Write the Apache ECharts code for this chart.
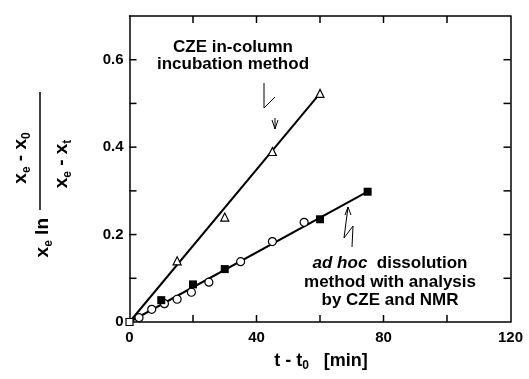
<!DOCTYPE html>
<html>
<head>
<meta charset="utf-8">
<script src="https://cdn.jsdelivr.net/npm/echarts@6/dist/echarts.min.js"></script>
<style>html,body{margin:0;padding:0;background:#fff;}#c{width:529px;height:379px;}</style>
</head>
<body>
<div id="c"></div>
<script>
// ---- data ----
var czeX = [0, 15, 30, 45, 60];
var czeY = [0, 0.14, 0.24, 0.39, 0.523];
var adhocSquareX = [0, 10, 20, 30, 60, 75];
var adhocSquareY = [0, 0.05, 0.086, 0.121, 0.235, 0.298];
var adhocCircleX = [3, 7, 11, 15, 19.5, 25, 35, 45, 55];
var adhocCircleY = [0.01, 0.029, 0.042, 0.052, 0.068, 0.091, 0.138, 0.184, 0.228];
var czeFitX = [0, 60];
var czeFitY = [0, 0.523];
var adhocFitX = [0, 75];
var adhocFitY = [0, 0.298];
var xTickLabels = [0, 40, 80, 120];
var yTickLabels = [0, 0.2, 0.4, 0.6];
var xTicks = [20, 40, 60, 80, 100];
var yTicks = [0.1, 0.2, 0.3, 0.4, 0.5, 0.6];

function zip(a, b) { return a.map(function (v, i) { return [v, b[i]]; }); }

var FONT = "'Liberation Sans', Arial, Helvetica, sans-serif";
var chart = echarts.init(document.getElementById('c'), null, { renderer: 'canvas' });

function xFmt(v) { return xTickLabels.indexOf(Math.round(v)) >= 0 ? String(Math.round(v)) : ''; }
function yFmt(v) {
  var r = Math.round(v * 10) / 10;
  for (var i = 0; i < yTickLabels.length; i++) if (Math.abs(yTickLabels[i] - r) < 1e-9) return r === 0 ? '0' : r.toFixed(1);
  return '';
}
function axisLine() { return { show: true, onZero: false, lineStyle: { color: '#000', width: 1.5 } }; }
var noTick = { show: false };
var lbl = { color: '#000', fontFamily: FONT, fontWeight: 'bold', fontSize: 15 };

var squareData = zip(adhocSquareX, adhocSquareY).map(function (p) {
  if (p[0] === 0) return { value: p, itemStyle: { color: '#fff', borderColor: '#000', borderWidth: 1.2 }, symbolSize: 7 };
  return p;
});

var sub = { fontFamily: FONT, fontWeight: 'bold', fontSize: 12, lineHeight: 12, padding: [10, 0, 0, 0], verticalAlign: 'bottom' };
var main = { fontFamily: FONT, fontWeight: 'bold', fontSize: 19, lineHeight: 21, verticalAlign: 'top' };

var graphics = [
    { type: 'text', x: 233, y: 56, style: {
        text: 'CZE in-column\nincubation method', fill: '#000', font: 'bold 17px ' + FONT,
        align: 'center', verticalAlign: 'middle', lineHeight: 17 } },
    { type: 'text', x: 390, y: 282, style: {
        text: '{i|ad hoc}  dissolution\nmethod with analysis\nby CZE and NMR', fill: '#000',
        font: 'bold 17px ' + FONT, fontFamily: FONT, fontWeight: 'bold', fontSize: 17,
        align: 'center', verticalAlign: 'middle', lineHeight: 18.5,
        rich: { i: { fontFamily: FONT, fontWeight: 'bold', fontStyle: 'italic', fontSize: 17, lineHeight: 18.5 } } } },
    { type: 'polyline', shape: { points: [[264, 83], [264, 108], [275, 97]] }, style: { stroke: '#000', lineWidth: 1, fill: null } },
    { type: 'polyline', shape: { points: [[275, 118], [275, 129]] }, style: { stroke: '#000', lineWidth: 1, fill: null } },
    { type: 'polyline', shape: { points: [[272, 120], [275, 129], [278, 120]] }, style: { stroke: '#000', lineWidth: 1, fill: null } },
    { type: 'polyline', shape: { points: [[348, 207], [344, 238], [353, 226], [352, 247]] }, style: { stroke: '#000', lineWidth: 1, fill: null } },
    { type: 'polyline', shape: { points: [[345, 215], [348, 207], [351, 215]] }, style: { stroke: '#000', lineWidth: 1, fill: null } },
    { type: 'text', x: 321, y: 362, style: {
        text: '{m|t - t}{s|0}{m|   [min]}', fill: '#000', align: 'center', verticalAlign: 'middle',
        rich: { m: { fontFamily: FONT, fontWeight: 'bold', fontSize: 18, lineHeight: 20, verticalAlign: 'top' },
                s: { fontFamily: FONT, fontWeight: 'bold', fontSize: 12, lineHeight: 12, padding: [10, 0, 0, 0], verticalAlign: 'bottom' } } } },
    { type: 'group', x: 40, y: 210, rotation: Math.PI / 2, children: [
        { type: 'line', shape: { x1: 0, y1: 0, x2: 118, y2: 0 }, style: { stroke: '#000', lineWidth: 1.5 } },
        { type: 'text', x: -8, y: 4, style: { text: '{m|x}{s|e}{m| ln}', fill: '#000', align: 'right', verticalAlign: 'middle', rich: { m: main, s: sub } } },
        { type: 'text', x: 52, y: -18, style: { text: '{m|x}{s|e}{m| - x}{s|0}', fill: '#000', align: 'center', verticalAlign: 'middle', rich: { m: main, s: sub } } },
        { type: 'text', x: 46, y: 23, style: { text: '{m|x}{s|e}{m| - x}{s|t}', fill: '#000', align: 'center', verticalAlign: 'middle', rich: { m: main, s: sub } } }
    ] }
];

// inward tick marks on all four sides, drawn by a custom series through the axis scales
var tickData = [];
xTicks.forEach(function (v) { tickData.push([v, 0, 0]); tickData.push([v, 0.7, 1]); });
yTicks.forEach(function (v) { tickData.push([0, v, 2]); tickData.push([120, v, 3]); });
var L = 7;

var option = {
  animation: false,
  backgroundColor: '#fff',
  grid: { left: 129.5, right: 18.5, top: 16, bottom: 57 },
  xAxis: [
    { type: 'value', min: 0, max: 120, interval: 20, position: 'bottom',
      axisLine: axisLine(), axisTick: noTick, splitLine: { show: false },
      axisLabel: Object.assign({ formatter: xFmt, margin: 8 }, lbl) },
    { type: 'value', min: 0, max: 120, interval: 20, position: 'top',
      axisLine: axisLine(), axisTick: noTick, splitLine: { show: false }, axisLabel: { show: false } }
  ],
  yAxis: [
    { type: 'value', min: 0, max: 0.7, interval: 0.1, position: 'left',
      axisLine: axisLine(), axisTick: noTick, splitLine: { show: false },
      axisLabel: Object.assign({ formatter: yFmt, margin: 6 }, lbl) },
    { type: 'value', min: 0, max: 0.7, interval: 0.1, position: 'right',
      axisLine: axisLine(), axisTick: noTick, splitLine: { show: false }, axisLabel: { show: false } }
  ],
  series: [
    { type: 'line', data: zip(czeFitX, czeFitY), showSymbol: false, symbol: 'none',
      lineStyle: { color: '#000', width: 2 }, z: 2 },
    { type: 'line', data: zip(adhocFitX, adhocFitY), showSymbol: false, symbol: 'none',
      lineStyle: { color: '#000', width: 2 }, z: 2 },
    { type: 'scatter', data: zip(czeX.slice(1), czeY.slice(1)), symbol: 'triangle', symbolSize: 8,
      itemStyle: { color: '#fff', borderColor: '#000', borderWidth: 1.2, opacity: 1 }, z: 3 },
    { type: 'scatter', data: zip(adhocCircleX, adhocCircleY), symbol: 'circle', symbolSize: 8,
      itemStyle: { color: '#fff', borderColor: '#000', borderWidth: 1.2, opacity: 1 }, z: 3 },
    { type: 'scatter', data: squareData, symbol: 'rect', symbolSize: 8,
      itemStyle: { color: '#000', borderColor: '#000', borderWidth: 0, opacity: 1 }, z: 4 },
    { type: 'custom', data: tickData, z: 10, silent: true, clip: false,
      encode: { x: 0, y: 1 },
      renderItem: function (params, api) {
        var p = api.coord([api.value(0), api.value(1)]);
        var side = api.value(2);
        var dx = 0, dy = 0;
        if (side === 0) dy = -L; else if (side === 1) dy = L; else if (side === 2) dx = L; else dx = -L;
        return { type: 'line', shape: { x1: p[0], y1: p[1], x2: p[0] + dx, y2: p[1] + dy },
                 style: { stroke: '#000', lineWidth: 1.5 } };
      } }
  ],
  graphic: graphics
};
chart.setOption(option);
</script>
</body>
</html>
